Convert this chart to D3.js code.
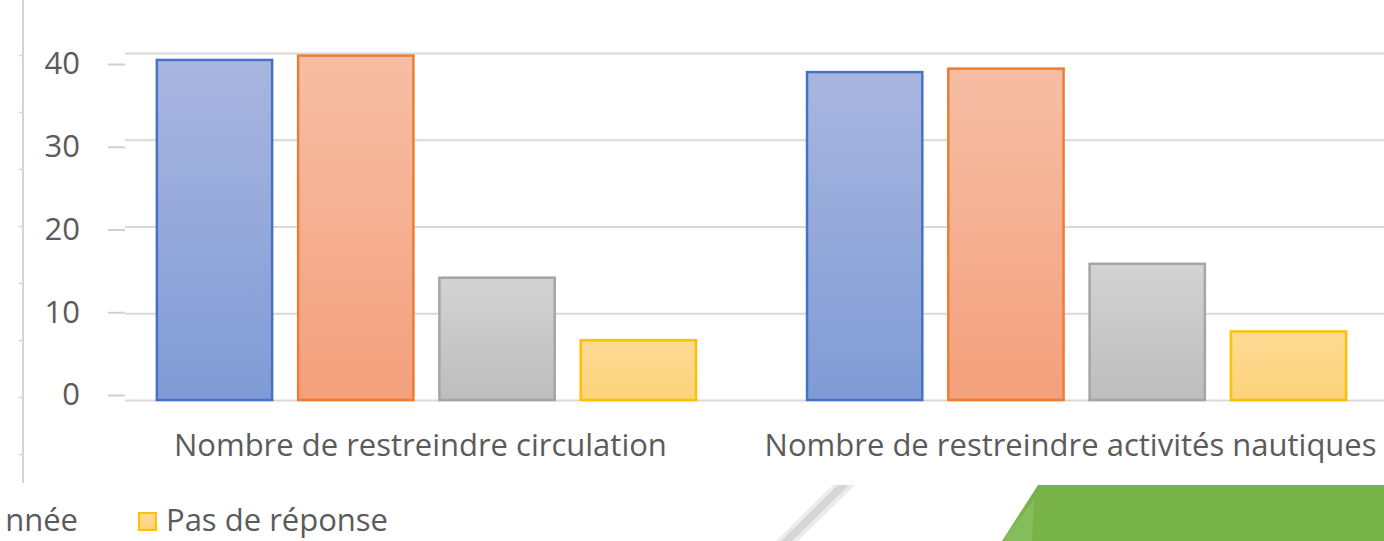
<!DOCTYPE html>
<html>
<head>
<meta charset="utf-8">
<script src="https://cdn.jsdelivr.net/npm/d3@7"></script>
<style>
  body { margin: 0; background: #fff; }
  svg text { font-family: "Open Sans", sans-serif; fill: #5b5b5b; }
</style>
</head>
<body>
<svg id="chart" width="1384" height="541"></svg>
<script>
// data
var categories = ["Nombre de restreindre circulation", "Nombre de restreindre activités nautiques"];
var series1 = [39.2, 37.8];   // blue
var series2 = [39.7, 38.2];   // orange
var series3 = [14.1, 15.7];   // grey
var series4 = [6.9, 7.9];     // yellow
var yTicks = [0, 10, 20, 30, 40];
var legendLabels = ["nnée", "Pas de réponse"];

var allSeries = [series1, series2, series3, series4];
var fillTop = ["#a9b6df", "#f6bea5", "#d3d3d3", "#fddb95"];
var fillBottom = ["#7f9bd6", "#f4a07c", "#bdbdbd", "#fdd27a"];
var strokes = ["#4472c4", "#ed7d31", "#a5a5a5", "#ffc000"];

var svg = d3.select("#chart");
var W = 1384;

var defs = svg.append("defs");
fillTop.forEach(function(c, i) {
    var grad = defs.append("linearGradient")
        .attr("id", "grad" + i)
        .attr("x1", 0).attr("y1", 0).attr("x2", 0).attr("y2", 1);
    grad.append("stop").attr("offset", "0%").attr("stop-color", c);
    grad.append("stop").attr("offset", "100%").attr("stop-color", fillBottom[i]);
});

var x0 = d3.scaleBand()
    .domain(categories)
    .range([125, 1378])
    .paddingInner(0.1708)
    .paddingOuter(0.049);

var x1 = d3.scaleBand()
    .domain(d3.range(allSeries.length))
    .range([0, x0.bandwidth()])
    .paddingInner(0.184)
    .paddingOuter(0);

var y = d3.scaleLinear().domain([0, 40]).range([400, 53]);
// tick labels sit a little off the gridlines in the photo
var yLab = d3.scaleLinear().domain([0, 40]).range([395, 64]);

// stray axis line on the far left
var leftScale = d3.scaleLinear().domain([0, 7]).range([55, 454]);
var leftAxis = svg.append("g")
    .attr("transform", "translate(23,0)")
    .call(d3.axisLeft(leftScale).tickValues(d3.range(8)).tickSize(4).tickFormat(""));
leftAxis.select(".domain").remove();
leftAxis.selectAll("line").attr("stroke", "#d4d4d4").attr("stroke-width", 1.5);
leftAxis.append("line")
    .attr("x1", 0).attr("x2", 0).attr("y1", 0).attr("y2", 483)
    .attr("stroke", "#d4d4d4").attr("stroke-width", 2);

// gridlines
var grid = svg.append("g")
    .attr("transform", "translate(125,0)")
    .call(d3.axisLeft(y).tickValues(yTicks).tickSize(-(W - 125)).tickFormat(""));
grid.select(".domain").remove();
grid.selectAll("line").attr("stroke", "#d9d9d9").attr("stroke-width", 2);

// y axis dashes + labels
var yAxis = svg.append("g")
    .attr("transform", "translate(125,0)")
    .call(d3.axisLeft(yLab).tickValues(yTicks).tickSize(17).tickPadding(28));
yAxis.select(".domain").remove();
yAxis.selectAll("line").attr("stroke", "#d0d0d0").attr("stroke-width", 2);
yAxis.selectAll("text")
    .style("font-size", "31px")
    .attr("fill", "#5b5b5b");

// bars
var groups = svg.append("g").selectAll("g")
    .data(categories)
    .enter()
    .append("g")
    .attr("transform", function(d) { return "translate(" + x0(d) + ",0)"; });

groups.selectAll("rect")
    .data(function(d, ci) {
        return allSeries.map(function(s, si) { return { si: si, v: s[ci] }; });
    })
    .enter()
    .append("rect")
    .attr("x", function(d) { return x1(d.si); })
    .attr("y", function(d) { return y(d.v); })
    .attr("width", x1.bandwidth())
    .attr("height", function(d) { return y(0) - y(d.v); })
    .attr("fill", function(d) { return "url(#grad" + d.si + ")"; })
    .attr("stroke", function(d) { return strokes[d.si]; })
    .attr("stroke-width", 2.5);

// category labels
svg.append("g").selectAll("text")
    .data(categories)
    .enter()
    .append("text")
    .attr("x", function(d) { return x0(d) + x0.bandwidth() / 2 - 6; })
    .attr("y", 456)
    .attr("text-anchor", "middle")
    .style("font-size", "31px")
    .text(function(d) { return d; });

// legend (cut off on the left)
svg.append("text")
    .attr("x", 78).attr("y", 531)
    .attr("text-anchor", "end")
    .style("font-size", "31px")
    .text(legendLabels[0]);
svg.append("rect")
    .attr("x", 139).attr("y", 513)
    .attr("width", 17).attr("height", 17)
    .attr("fill", "url(#grad3)")
    .attr("stroke", strokes[3]).attr("stroke-width", 2);
svg.append("text")
    .attr("x", 166).attr("y", 531)
    .style("font-size", "31px")
    .text(legendLabels[1]);

// slide decorations bottom right
var deco = svg.append("g");
deco.append("path")
    .attr("d", d3.line()([[776, 541], [798, 541], [855, 485], [833, 485]]))
    .attr("fill", "#ececec");
deco.append("path")
    .attr("d", d3.line()([[781, 541], [792, 541], [849, 485], [838, 485]]))
    .attr("fill", "#d6d6d6");
deco.append("path")
    .attr("d", d3.line()([[1002, 541], [1384, 541], [1384, 485], [1038, 485]]))
    .attr("fill", "#78b348");
deco.append("path")
    .attr("d", d3.line()([[1002, 541], [1032, 541], [1034, 500]]))
    .attr("fill", "#86bd5b");
</script>
</body>
</html>
